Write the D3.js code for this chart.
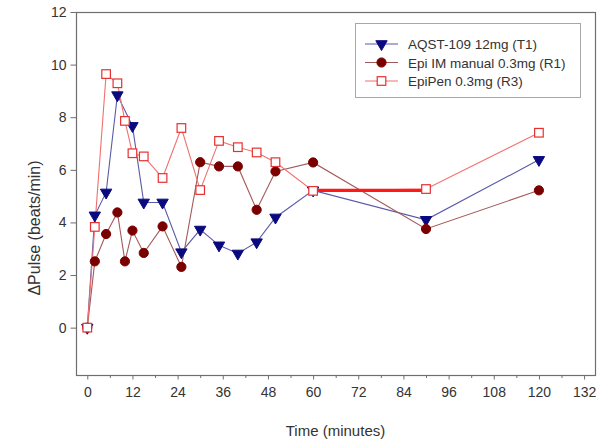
<!DOCTYPE html>
<html>
<head>
<meta charset="utf-8">
<script src="https://cdnjs.cloudflare.com/ajax/libs/d3/7.8.5/d3.min.js"></script>
<style>
  body { margin: 0; background: #fff; }
  text { font-family: "Liberation Sans", Arial, sans-serif; fill: #333; }
</style>
</head>
<body>
<svg width="611" height="441"></svg>
<script>
// data
var times = [0, 2, 5, 8, 10, 12, 15, 20, 25, 30, 35, 40, 45, 50, 60, 90, 120];
var aqstTimes = [0, 2, 5, 8, 12, 15, 20, 25, 30, 35, 40, 45, 50, 60, 90, 120];
var aqst = [0, 4.27, 5.14, 8.84, 7.67, 4.76, 4.76, 2.87, 3.73, 3.13, 2.82, 3.25, 4.19, 5.22, 4.10, 6.38];
var epiIM = [0, 2.52, 3.56, 4.38, 2.52, 3.69, 2.84, 3.85, 2.31, 6.29, 6.13, 6.13, 4.48, 5.94, 6.28, 3.75, 5.22];
var epiPen = [0, 3.83, 9.64, 9.29, 7.86, 6.63, 6.51, 5.69, 7.59, 5.23, 7.10, 6.86, 6.66, 6.29, 5.20, 5.27, 7.41];
var seriesNames = ["AQST-109 12mg (T1)", "Epi IM manual 0.3mg (R1)", "EpiPen 0.3mg (R3)"];
var barTimes = [60, 90];
var barValue = 5.22;
var xTicks = d3.range(0, 133, 12);
var xMinor = d3.range(6, 133, 12);
var yTicks = d3.range(0, 13, 2);

// display settings
var margin = {left: 76, right: 16, top: 12, bottom: 66};
var width = 611, height = 441;
var svg = d3.select("svg");

var x = d3.scaleLinear().domain([-3, 134.9]).range([margin.left, width - margin.right]);
var y = d3.scaleLinear().domain([-1.8, 12]).range([height - margin.bottom, margin.top]);

function pts(ts, vs) {
    return ts.map(function(t, i) { return {t: t, v: vs[i]}; });
}

var series = [
    {name: seriesNames[0], data: pts(aqstTimes, aqst), line: "#5a5aa8", fill: "#0a0a80", stroke: "#0a0a80", shape: "tri"},
    {name: seriesNames[1], data: pts(times, epiIM), line: "#a45a5a", fill: "#7a0000", stroke: "#7a0000", shape: "circle"},
    {name: seriesNames[2], data: pts(times, epiPen), line: "#f07070", fill: "#fff", stroke: "#e83030", shape: "square"}
];

/*------------------------
  ------ FRAME/AXES ------
  ------------------------*/

svg.append("rect")
    .attr("x", x.range()[0] + 0.5)
    .attr("y", y.range()[1] + 0.5)
    .attr("width", x.range()[1] - x.range()[0])
    .attr("height", y.range()[0] - y.range()[1])
    .attr("fill", "none")
    .attr("stroke", "#6e6e6e")
    .attr("stroke-width", 1.2);

svg.append("g")
    .attr("transform", "translate(0," + (y.range()[0] + 0.5) + ")")
    .call(d3.axisBottom(x).tickValues(xTicks).tickSize(4).tickPadding(8));
svg.append("g")
    .attr("transform", "translate(0," + (y.range()[0] + 0.5) + ")")
    .call(d3.axisBottom(x).tickValues(xMinor).tickSize(2.5).tickFormat(""));

svg.append("g")
    .attr("transform", "translate(" + (x.range()[0] + 0.5) + ",0)")
    .call(d3.axisLeft(y).tickValues(yTicks).tickSize(6).tickPadding(4));

svg.selectAll(".domain").remove();
svg.selectAll(".tick line").attr("stroke", "#6e6e6e");
svg.selectAll(".tick text")
    .attr("font-size", 14)
    .attr("font-family", "Liberation Sans, Arial, sans-serif")
    .attr("fill", "#333");

svg.append("text")
    .attr("x", (x.range()[0] + x.range()[1]) / 2)
    .attr("y", 436)
    .attr("text-anchor", "middle")
    .attr("font-size", 15)
    .text("Time (minutes)");

svg.append("text")
    .attr("transform", "translate(40,228) rotate(-90)")
    .attr("text-anchor", "middle")
    .attr("font-size", 16)
    .text("\u0394Pulse (beats/min)");

/*------------------------
  ------- SERIES ---------
  ------------------------*/

var line = d3.line().x(function(d) { return x(d.t); }).y(function(d) { return y(d.v); });
var tri = d3.symbol().type(d3.symbolTriangle).size(56);

function drawMarker(g, s) {
    if (s.shape == "circle") {
        g.append("circle").attr("r", 4.6).attr("fill", s.fill).attr("stroke", s.stroke);
    } else if (s.shape == "square") {
        g.append("rect").attr("x", -4.3).attr("y", -4.3).attr("width", 8.6).attr("height", 8.6)
            .attr("fill", s.fill).attr("stroke", s.stroke).attr("stroke-width", 1.2);
    } else {
        g.append("path").attr("d", tri).attr("transform", "rotate(180)")
            .attr("fill", s.fill).attr("stroke", s.stroke);
    }
}

series.forEach(function(s) {
    svg.append("path")
        .datum(s.data)
        .attr("d", line)
        .attr("fill", "none")
        .attr("stroke", s.line)
        .attr("stroke-width", 1.1);
});

// thick bar 60-90
svg.append("line")
    .attr("x1", x(barTimes[0])).attr("x2", x(barTimes[1]))
    .attr("y1", y(barValue)).attr("y2", y(barValue))
    .attr("stroke", "#ff1a1a")
    .attr("stroke-width", 3.2);

series.forEach(function(s) {
    svg.append("g").selectAll("g")
        .data(s.data)
        .enter()
        .append("g")
        .attr("transform", function(d) { return "translate(" + x(d.t) + "," + y(d.v) + ")"; })
        .each(function() { drawMarker(d3.select(this), s); });
});

/*------------------------
  ------- LEGEND ---------
  ------------------------*/

var leg = svg.append("g");
leg.append("rect")
    .attr("x", 355.5).attr("y", 23.5).attr("width", 225).attr("height", 74)
    .attr("fill", "#fff").attr("stroke", "#a8a8a8");

series.forEach(function(s, i) {
    var ly = 44 + i * 18.5;
    leg.append("line")
        .attr("x1", 365).attr("x2", 398).attr("y1", ly).attr("y2", ly)
        .attr("stroke", s.line).attr("stroke-width", 1.1);
    drawMarker(leg.append("g").attr("transform", "translate(381.5," + ly + ")"), s);
    leg.append("text")
        .attr("x", 408).attr("y", ly + 5)
        .attr("font-size", 13.5)
        .text(s.name);
});
</script>
</body>
</html>
